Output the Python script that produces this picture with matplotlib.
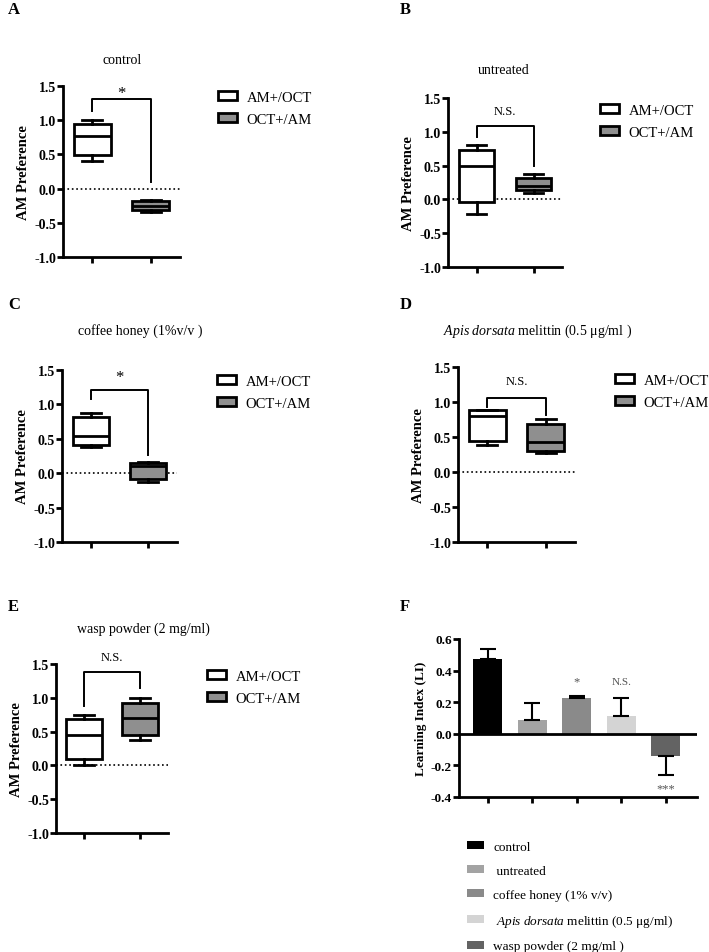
import numpy as np
import matplotlib
matplotlib.use('Agg')
import matplotlib.pyplot as plt
from matplotlib.patches import Patch

plt.rcParams['font.family'] = ['Liberation Serif', 'DejaVu Serif']
plt.rcParams['mathtext.fontset'] = 'custom'
plt.rcParams['mathtext.rm'] = 'Liberation Serif'
plt.rcParams['mathtext.it'] = 'Liberation Serif:italic'

# box plot data: [whislo, q1, med, q3, whishi]  (AM+/OCT, OCT+/AM)
titles = ['control', 'untreated', 'coffee honey (1%v/v )',
          r'$\it{Apis\ dorsata}$ melittin (0.5 μg/ml )', 'wasp powder (2 mg/ml)']
panel_names = ['A', 'B', 'C', 'D', 'E']
am_stats = [[0.40, 0.495, 0.77, 0.94, 1.00],
            [-0.21, -0.035, 0.50, 0.73, 0.81],
            [0.375, 0.41, 0.54, 0.81, 0.88],
            [0.38, 0.45, 0.80, 0.88, 0.88],
            [0.00, 0.10, 0.455, 0.69, 0.75]]
oct_stats = [[-0.34, -0.31, -0.26, -0.18, -0.165],
             [0.10, 0.14, 0.20, 0.317, 0.376],
             [-0.126, -0.09, 0.107, 0.155, 0.17],
             [0.276, 0.295, 0.43, 0.69, 0.76],
             [0.37, 0.445, 0.70, 0.93, 1.00]]
# bracket: left foot, top, right foot, text y
brackets = [[1.13, 1.31, 0.10, 1.40],
            [0.92, 1.09, 0.50, 1.31],
            [1.08, 1.21, 0.27, 1.40],
            [0.93, 1.06, 0.82, 1.30],
            [0.88, 1.38, 1.14, 1.60]]
sig_text = ['*', 'N.S.', '*', 'N.S.', 'N.S.']
legend_labels = ['AM+/OCT', 'OCT+/AM']

# learning index bars
li_groups = ['control', ' untreated', 'coffee honey (1% v/v)',
             r' $\it{Apis\ dorsata}$ melittin (0.5 μg/ml)', 'wasp powder (2 mg/ml )']
li_mean = [0.475, 0.085, 0.225, 0.115, -0.14]
li_err = [0.06, 0.11, 0.013, 0.11, 0.12]
li_sig = ['', '', '*', 'N.S.', '***']
li_sig_y = [0, 0, 0.33, 0.33, -0.345]
li_colors = ['#000000', '#a3a3a3', '#8a8a8a', '#d4d4d4', '#636363']

W, H = 709, 953
fig = plt.figure(figsize=(W / 100, H / 100), dpi=100)

def fx(px):
    return px / W

def fy(py):
    return 1 - py / H

def add_ax(l, t, r, b):
    return fig.add_axes([fx(l), fy(b), fx(r) - fx(l), fy(t) - fy(b)])

# pixel boxes: left, top, right, bottom
box_axes = [(63, 87, 180, 258), (448, 99, 562, 268), (62, 371, 177, 543),
            (458, 368, 575, 543), (56, 665, 168, 834)]
title_pos = [(122, 60), (504, 71), (140, 331), (538, 331), (143, 629)]
label_pos = [(8, 10), (400, 10), (8, 305), (400, 305), (8, 607)]
legend_pos = [(218, 92), (600, 105), (217, 376), (615, 375), (207, 671)]

gray_fill = '#8f8f8f'
lw = 2.0

for i in range(5):
    ax = add_ax(*box_axes[i])
    stats = []
    for s in [am_stats[i], oct_stats[i]]:
        stats.append(dict(whislo=s[0], q1=s[1], med=s[2], q3=s[3], whishi=s[4], fliers=[]))
    bp = ax.bxp(stats, positions=[1, 2], widths=0.63, patch_artist=True, showfliers=False,
                boxprops=dict(linewidth=lw, edgecolor='black'),
                medianprops=dict(linewidth=lw, color='black'),
                whiskerprops=dict(linewidth=lw, color='black'),
                capprops=dict(linewidth=lw, color='black'),
                capwidths=0.35)
    bp['boxes'][0].set_facecolor('white')
    bp['boxes'][1].set_facecolor(gray_fill)
    ax.axhline(0, color='black', ls=':', lw=1.2, zorder=0)
    bl = brackets[i]
    ax.plot([1, 1, 2, 2], [bl[0], bl[1], bl[1], bl[2]], color='black', lw=1.4, clip_on=False)
    if sig_text[i] == '*':
        ax.text(1.5, bl[3], '*', ha='center', va='center', fontsize=12, clip_on=False)
    else:
        ax.text(1.5, bl[3], sig_text[i], ha='center', va='center', fontsize=9, clip_on=False)
    ax.set_xlim(0.5, 2.5)
    ax.set_ylim(-1.0, 1.5)
    ax.set_yticks([-1.0, -0.5, 0.0, 0.5, 1.0, 1.5])
    ax.set_yticklabels(['-1.0', '-0.5', '0.0', '0.5', '1.0', '1.5'], fontweight='bold', fontsize=10)
    ax.set_xticks([1, 2])
    ax.set_xticklabels(['', ''])
    ax.tick_params(width=lw, length=4, direction='out', pad=1)
    ax.spines['top'].set_visible(False)
    ax.spines['right'].set_visible(False)
    ax.spines['left'].set_linewidth(lw)
    ax.spines['bottom'].set_linewidth(lw)
    ax.set_ylabel('AM Preference', fontweight='bold', fontsize=10.5, labelpad=3)

    handles = [Patch(facecolor='white', edgecolor='black', linewidth=lw),
               Patch(facecolor=gray_fill, edgecolor='black', linewidth=lw)]
    lp = legend_pos[i]
    fig.legend(handles, legend_labels, loc='upper left', bbox_to_anchor=(fx(lp[0]), fy(lp[1])),
               frameon=False, fontsize=10.5, handlelength=1.3, handleheight=0.6,
               handletextpad=0.65, labelspacing=0.6, borderpad=0, borderaxespad=0)

    tp = title_pos[i]
    fig.text(fx(tp[0]), fy(tp[1]), titles[i], ha='center', va='center', fontsize=10)
    pl = label_pos[i]
    fig.text(fx(pl[0]), fy(pl[1]), panel_names[i], ha='left', va='center',
             fontsize=12, fontweight='bold')

# panel F
axf = add_ax(459, 640, 697, 798)
xf = np.arange(len(li_mean))
lower = [0 if v >= 0 else e for v, e in zip(li_mean, li_err)]
upper = [e if v >= 0 else 0 for v, e in zip(li_mean, li_err)]
bars = axf.bar(xf, li_mean, width=0.65, color=li_colors, yerr=[lower, upper],
               error_kw=dict(ecolor='black', elinewidth=1.5, capsize=6, capthick=1.5), zorder=2)
axf.axhline(0, color='black', lw=2, zorder=3)
for k in range(len(li_sig)):
    if li_sig[k]:
        axf.text(xf[k], li_sig_y[k], li_sig[k], ha='center', va='center',
                 fontsize=8 if li_sig[k] == 'N.S.' else 9, color='#555555')
axf.set_xlim(-0.65, 4.7)
axf.set_ylim(-0.4, 0.6)
axf.set_yticks([-0.4, -0.2, 0.0, 0.2, 0.4, 0.6])
axf.set_yticklabels(['-0.4', '-0.2', '0.0', '0.2', '0.4', '0.6'], fontweight='bold', fontsize=9.5)
axf.set_xticks(xf)
axf.set_xticklabels([''] * len(xf))
axf.tick_params(width=lw, length=4, direction='out', pad=1)
axf.spines['top'].set_visible(False)
axf.spines['right'].set_visible(False)
axf.spines['left'].set_linewidth(lw)
axf.spines['bottom'].set_linewidth(lw)
axf.set_ylabel('Learning Index (LI)', fontweight='bold', fontsize=9.5, labelpad=3)
fig.text(fx(400), fy(607), 'F', ha='left', va='center', fontsize=12, fontweight='bold')

f_handles = [Patch(facecolor=c, edgecolor='none') for c in li_colors]
fig.legend(f_handles, li_groups, loc='upper left', bbox_to_anchor=(fx(467), fy(842)),
           frameon=False, fontsize=9.5, handlelength=1.3, handleheight=0.55,
           handletextpad=0.7, labelspacing=0.9, borderpad=0, borderaxespad=0)

fig.savefig('out.png', dpi=100)
